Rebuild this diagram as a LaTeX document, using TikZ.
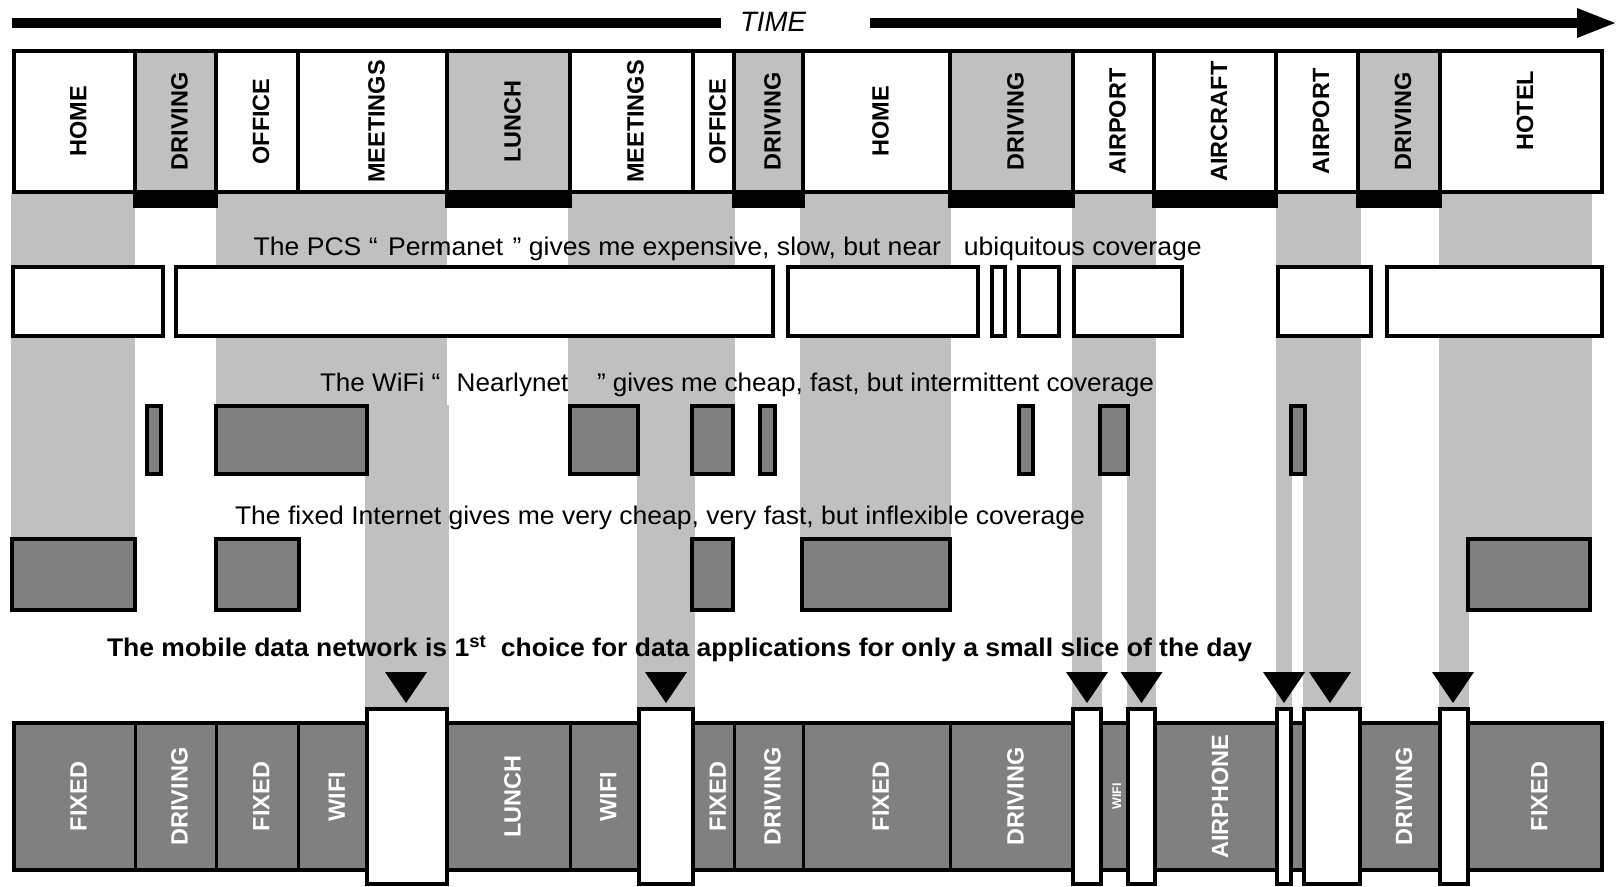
\documentclass[tikz,border=0pt]{standalone}
\usepackage{fontspec}
\setmainfont{Liberation Sans}
\usepackage{graphicx}
\definecolor{lg}{HTML}{C0C0C0}
\definecolor{dg}{HTML}{808080}
\newcommand\vlab[1]{\rotatebox{90}{\rule{0pt}{1.05em}#1}}
\newcommand\bx[7]{\node[#6, minimum width={(#3-#2)*1pt}, minimum height={(#5-#4)*1pt}] (#1) at ({(#2+#3)/2},{(#4+#5)/2}) {#7};}
\newcommand\tri[1]{\fill[black] (#1-21,672) -- (#1+21,672) -- (#1,703) -- cycle;}
\tikzset{
  cell/.style={draw=black, line width=4pt, inner sep=0pt, outer sep=0pt},
  topw/.style={cell, fill=white, font={\fontsize{23.5}{26}\selectfont\bfseries}},
  topg/.style={topw, fill=lg},
  pcs/.style={cell, fill=white},
  net/.style={cell, fill=dg},
  bot/.style={cell, line width=3pt, fill=dg, text=white, font={\fontsize{23.5}{26}\selectfont\bfseries}},
  slot/.style={cell, fill=white},
  caption/.style={anchor=base west, inner sep=0pt, outer sep=0pt, font={\fontsize{25.5}{28}\selectfont}},
}
\begin{document}
\begin{tikzpicture}[x=1pt,y=-1pt]
\useasboundingbox (0,0) rectangle (1616,886);
% time arrow
\coordinate (tL) at (11.5,23);
\coordinate (tL2) at (721,23);
\coordinate (tR1) at (870,23);
\coordinate (tR) at (1580,23);
\draw[line width=10pt] (tL) -- (tL2);
\draw[line width=10pt] (tR1) -- (tR);
\fill[black] (1577,8) -- (1615,23) -- (1577,38) -- cycle;
\node[caption] (time) at (740,31.7) {\resizebox{66pt}{\height}{\fontsize{28}{30}\selectfont\itshape TIME}};

% light gray columns
\fill[lg] (11,194) rectangle (135,537);
\fill[lg] (216,194) rectangle (447,405);
\fill[lg] (365,405) rectangle (449,709);
\fill[lg] (568,194) rectangle (735,405);
\fill[lg] (637,405) rectangle (695,709);
\fill[lg] (800,194) rectangle (951,537);
\fill[lg] (1072,194) rectangle (1156,405);
\fill[lg] (1072,405) rectangle (1102,709);
\fill[lg] (1127,405) rectangle (1156,709);
\fill[lg] (1276,194) rectangle (1361,405);
\fill[lg] (1276,405) rectangle (1292,709);
\fill[lg] (1303,405) rectangle (1361,709);
\fill[lg] (1439,194) rectangle (1592,537);
\fill[lg] (1439,537) rectangle (1469,709);

% black bars under top row
\fill[black] (133,192) rectangle (218,208);
\fill[black] (445,192) rectangle (572,208);
\fill[black] (732,192) rectangle (805,208);
\fill[black] (948,192) rectangle (1075,208);
\fill[black] (1152,192) rectangle (1278,208);
\fill[black] (1356,192) rectangle (1442,208);

% top row
\bx{t1}{13.5}{135}{51}{192}{topw}{\vlab{HOME}}
\bx{t2}{135}{216}{51}{192}{topg}{\vlab{DRIVING}}
\bx{t3}{216}{298}{51}{192}{topw}{\vlab{OFFICE}}
\bx{t4}{298}{447}{51}{192}{topw}{\vlab{MEETINGS}}
\bx{t5}{447}{570}{51}{192}{topg}{\vlab{LUNCH}}
\bx{t6}{570}{693}{51}{192}{topw}{\vlab{MEETINGS}}
\bx{t7}{693}{734}{51}{192}{topw}{\vlab{OFFICE}}
\bx{t8}{734}{803}{51}{192}{topg}{\vlab{DRIVING}}
\bx{t9}{803}{950}{51}{192}{topw}{\vlab{HOME}}
\bx{t10}{950}{1073}{51}{192}{topg}{\vlab{DRIVING}}
\bx{t11}{1073}{1154}{51}{192}{topw}{\vlab{AIRPORT}}
\bx{t12}{1154}{1276}{51}{192}{topw}{\vlab{AIRCRAFT}}
\bx{t13}{1276}{1358}{51}{192}{topw}{\vlab{AIRPORT}}
\bx{t14}{1358}{1440}{51}{192}{topg}{\vlab{DRIVING}}
\bx{t15}{1440}{1602}{51}{192}{topw}{\raisebox{22pt}{\vlab{HOTEL}}}

% captions
\node[caption] (cap1) at (253.7,255) {\resizebox{948pt}{\height}{The PCS “\hspace{10pt}Permanet\hspace{9pt}” gives me expensive, slow, but near\hspace{22pt}ubiquitous coverage}};
\node[caption] (cap2) at (320,391.7) {\resizebox{834pt}{\height}{The WiFi “\hspace{16pt}Nearlynet\hspace{28pt}” gives me cheap, fast, but intermittent coverage}};
\node[caption] (cap3) at (235,524) {\resizebox{850pt}{\height}{The fixed Internet gives me very cheap, very fast, but inflexible coverage}};
\node[caption] (cap4) at (107,656.7) {\resizebox{1145pt}{\height}{\bfseries The mobile data network is 1\textsuperscript{st}\hspace{14pt}choice for data applications for only a small slice of the day}};

% PCS boxes
\bx{p1}{12.5}{163}{267}{336}{pcs}{}
\bx{p2}{176}{773}{267}{336}{pcs}{}
\bx{p3}{788}{977.5}{267}{336}{pcs}{}
\bx{p4}{992}{1005}{267}{336}{pcs}{}
\bx{p5}{1019}{1059}{267}{336}{pcs}{}
\bx{p6}{1074}{1182}{267}{336}{pcs}{}
\bx{p7}{1278}{1371}{267}{336}{pcs}{}
\bx{p8}{1387}{1602}{267}{336}{pcs}{}

% WiFi boxes
\bx{w1}{147}{161}{406}{474}{net}{}
\bx{w2}{216}{367}{406}{474}{net}{}
\bx{w3}{570}{638}{406}{474}{net}{}
\bx{w4}{692}{733}{406}{474}{net}{}
\bx{w5}{760}{775}{406}{474}{net}{}
\bx{w6}{1019}{1033}{406}{474}{net}{}
\bx{w7}{1100}{1128}{406}{474}{net}{}
\bx{w8}{1291}{1305}{406}{474}{net}{}

% Fixed boxes
\bx{f1}{12}{135}{539}{610}{net}{}
\bx{f2}{216}{299}{539}{610}{net}{}
\bx{f3}{692}{733}{539}{610}{net}{}
\bx{f4}{802}{950}{539}{610}{net}{}
\bx{f5}{1468}{1590}{539}{610}{net}{}

% bottom row
\bx{b1}{13.5}{135}{723}{870}{bot}{\vlab{FIXED}}
\bx{b2}{135}{216}{723}{870}{bot}{\vlab{DRIVING}}
\bx{b3}{216}{298}{723}{870}{bot}{\vlab{FIXED}}
\bx{b4}{298}{367}{723}{870}{bot}{\vlab{WIFI}}
\bx{b5}{447}{570}{723}{870}{bot}{\vlab{LUNCH}}
\bx{b6}{570}{638}{723}{870}{bot}{\vlab{WIFI}}
\bx{b7}{693}{734}{723}{870}{bot}{\vlab{FIXED}}
\bx{b8}{734}{803}{723}{870}{bot}{\vlab{DRIVING}}
\bx{b9}{803}{950}{723}{870}{bot}{\vlab{FIXED}}
\bx{b10}{950}{1073}{723}{870}{bot}{\vlab{DRIVING}}
\bx{b11}{1101}{1128}{723}{870}{bot}{\fontsize{12.5}{14}\selectfont\vlab{WIFI}}
\bx{b12}{1155}{1277}{723}{870}{bot}{\vlab{AIRPHONE}}
\bx{b13}{1291}{1304}{723}{870}{bot}{}
\bx{b14}{1360}{1440}{723}{870}{bot}{\vlab{DRIVING}}
\bx{b15}{1468}{1602}{723}{870}{bot}{\vlab{FIXED}}
\draw[line width=4pt] (b1.north west) rectangle (b15.south east);

% white slots
\bx{s1}{367}{447}{709}{884}{slot}{}
\bx{s2}{639}{693}{709}{884}{slot}{}
\bx{s3}{1073}{1101}{709}{884}{slot}{}
\bx{s4}{1128}{1155}{709}{884}{slot}{}
\bx{s5}{1277}{1291}{709}{884}{slot}{}
\bx{s6}{1304}{1360}{709}{884}{slot}{}
\bx{s7}{1440}{1468}{709}{884}{slot}{}

% triangles
\tri{406}
\tri{666}
\tri{1087}
\tri{1141.5}
\tri{1284}
\tri{1330}
\tri{1453}
\end{tikzpicture}
\end{document}
